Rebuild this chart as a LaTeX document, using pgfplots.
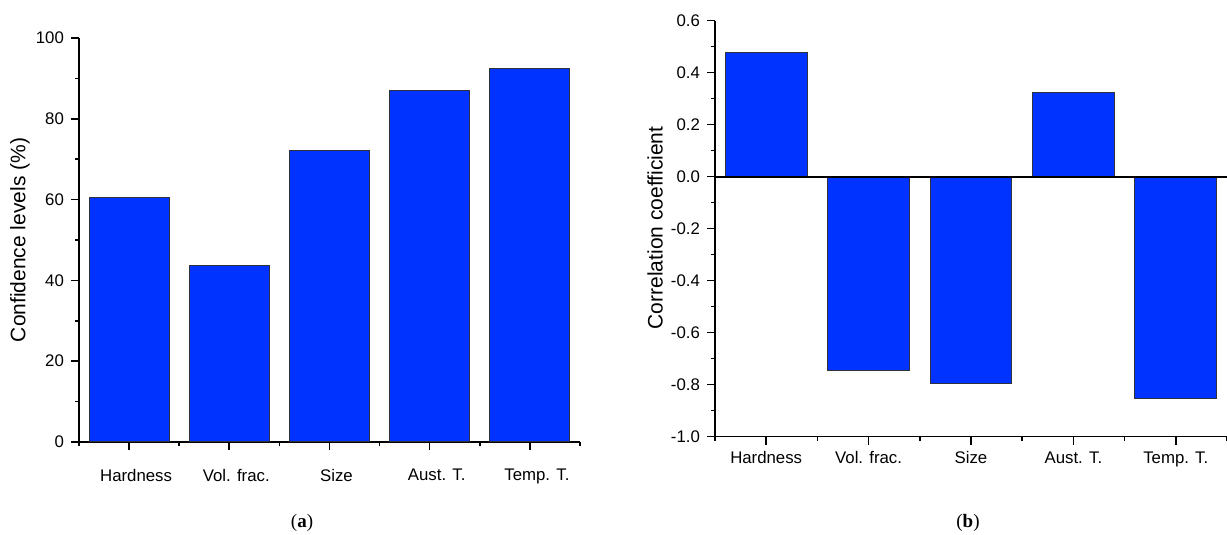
\documentclass[border=0pt]{standalone}
\usepackage{pgfplots}
\pgfplotsset{compat=1.18}
\usepackage{fontspec}
\setmainfont{Liberation Sans}
\newfontfamily\capfont{Liberation Serif}
\definecolor{barblue}{RGB}{0,51,255}
\definecolor{baredge}{RGB}{50,50,60}
\begin{document}
\begin{tikzpicture}
\pgfplotsset{
 mystyle/.style={
  scale only axis,
  axis lines*=left,
  xmin=-0.5, xmax=4.5,
  xtick={0,...,4},
  xticklabels={Hardness,Vol. frac.,Size,Aust. T.,Temp. T.},
  minor xtick={-0.5,0.5,...,4.5},
  tick align=outside,
  major tick length=4pt, minor tick length=2pt,
  every tick/.style={black, line width=0.8pt},
  axis line style={line width=0.8pt},
  tick label style={font=\fontsize{8.4}{10}\selectfont},
  label style={font=\fontsize{10.5}{12.5}\selectfont},
  /pgf/number format/assume math mode=true,
  minor y tick num=1,
  clip=false,
 },
 mybar/.style={ybar, bar width=0.8, fill=barblue, draw=baredge, line width=0.5pt},
}
\begin{axis}[mystyle,
  at={(39.5pt,46.5pt)}, anchor=south west,
  width=250.5pt, height=202pt,
  ymin=0, ymax=100, ytick={0,20,40,60,80,100},
  xticklabel style={yshift=-6pt, xshift=3.5pt},
  ylabel={Confidence levels (\%)},
  ylabel style={at={(axis description cs:-0.118,0.5)}, anchor=center},
]
\addplot[mybar] coordinates {(0,60.6) (1,43.7) (2,72.1) (3,87.1) (4,92.5)};
\end{axis}
\begin{axis}[mystyle,
  at={(357.5pt,49.15pt)}, anchor=south west,
  width=256pt, height=208pt,
  ymin=-1, ymax=0.6, ytick={-1,-0.8,-0.6,-0.4,-0.2,0,0.2,0.4,0.6},
  yticklabel style={/pgf/number format/fixed, /pgf/number format/fixed zerofill, /pgf/number format/precision=1},
  ylabel={Correlation coefficient},
  ylabel style={at={(axis description cs:-0.117,0.502)}, anchor=center},
]
\addplot[mybar] coordinates {(0,0.479) (1,-0.747) (2,-0.795) (3,0.325) (4,-0.855)};
\addplot[sharp plot, black, line width=0.9pt, mark=none] coordinates {(-0.5,0) (4.5,0)};
\end{axis}
\node[font=\capfont\fontsize{9.5}{11}\selectfont] at (151pt,6pt) {(\textbf{a})};
\node[font=\capfont\fontsize{9.5}{11}\selectfont] at (484pt,6pt) {(\textbf{b})};
\pgfresetboundingbox
\useasboundingbox (0pt,0pt) rectangle (613.5pt,267.5pt);
\end{tikzpicture}
\end{document}
